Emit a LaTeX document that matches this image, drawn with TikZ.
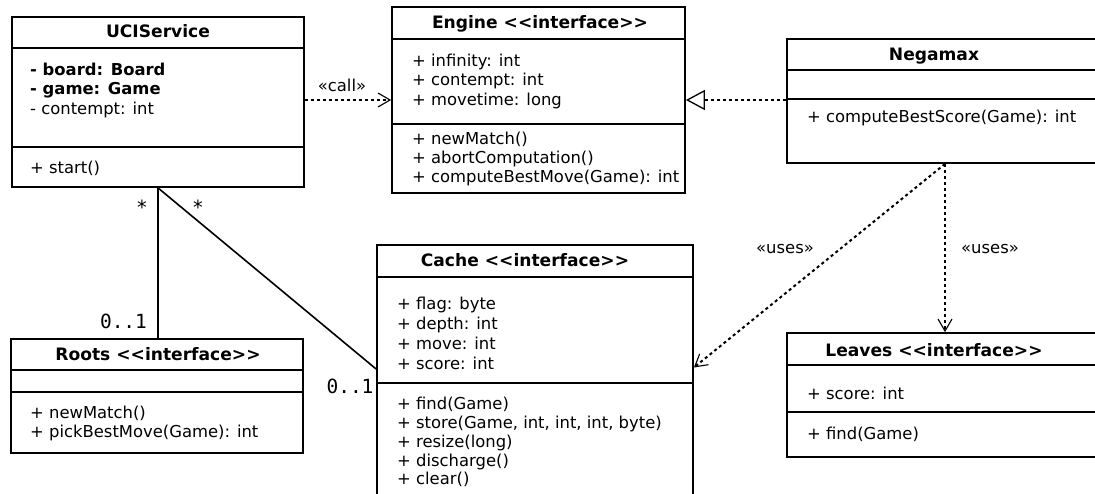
\documentclass[tikz,border=0pt]{standalone}
\usepackage{fontspec}
\setmainfont{DejaVu Sans}
\newfontfamily\monofont{DejaVu Sans Mono}
\usetikzlibrary{arrows.meta}

\tikzset{
  classbox/.style={draw, line width=1.8pt, rectangle, inner sep=0pt, fill=white},
  divider/.style={line width=1.8pt},
  txt/.style={anchor=base west, inner sep=0pt, font=\fontsize{16.4}{19.2}\selectfont},
  title/.style={anchor=base, inner sep=0pt, font=\fontsize{17.1}{19.2}\selectfont\bfseries},
  lbl/.style={anchor=base, inner sep=0pt, font=\fontsize{16.4}{19.2}\selectfont},
  mult/.style={anchor=center, inner sep=0pt, font=\fontsize{19.5}{22}\selectfont\monofont},
  depend/.style={line width=2pt, dash pattern=on 3pt off 3pt,
    -{Straight Barb[length=12pt, width=14pt, line width=1.1pt]}},
  realize/.style={line width=2pt, dash pattern=on 3pt off 3pt,
    -{Triangle[open, length=19pt, width=20pt, line width=1.3pt, fill=white]}},
  assoc/.style={line width=1.6pt},
}

\begin{document}
\begin{tikzpicture}[x=1pt, y=-1pt]
\useasboundingbox (0,0) rectangle (1095,494);
\clip (0,0) rectangle (1095,494);
\fill[white] (0,0) rectangle (1095,494);

% ---------- class boxes ----------
\node[classbox, minimum width=292pt, minimum height=170pt] (uci)     at (158,102)   {};
\node[classbox, minimum width=293pt, minimum height=186pt] (engine)  at (538.5,100) {};
\node[classbox, minimum width=316pt, minimum height=124pt] (negamax) at (945,101)   {};
\node[classbox, minimum width=316pt, minimum height=265pt] (cache)   at (535,377.5) {};
\node[classbox, minimum width=292pt, minimum height=114pt] (roots)   at (157,396)   {};
\node[classbox, minimum width=316pt, minimum height=124pt] (leaves)  at (945,395)   {};

% compartment dividers
\draw[divider] (uci.west |- 0,48)      -- (uci.east |- 0,48);
\draw[divider] (uci.west |- 0,147)     -- (uci.east |- 0,147);
\draw[divider] (engine.west |- 0,39)   -- (engine.east |- 0,39);
\draw[divider] (engine.west |- 0,124)  -- (engine.east |- 0,124);
\draw[divider] (negamax.west |- 0,70)  -- (negamax.east |- 0,70);
\draw[divider] (negamax.west |- 0,99)  -- (negamax.east |- 0,99);
\draw[divider] (cache.west |- 0,277)   -- (cache.east |- 0,277);
\draw[divider] (cache.west |- 0,383)   -- (cache.east |- 0,383);
\draw[divider] (roots.west |- 0,370)   -- (roots.east |- 0,370);
\draw[divider] (roots.west |- 0,392)   -- (roots.east |- 0,392);
\draw[divider] (leaves.west |- 0,365)  -- (leaves.east |- 0,365);
\draw[divider] (leaves.west |- 0,412)  -- (leaves.east |- 0,412);

% ---------- UCIService ----------
\node[title] (uciT) at (158,38) {UCIService};
\node[txt] (uciA1) at (30,76)  {\bfseries - board: Board};
\node[txt] (uciA2) at (30,95)  {\bfseries - game: Game};
\node[txt] (uciA3) at (30,115) {- contempt: int};
\node[txt] (uciM1) at (30,174) {+ start()};

% ---------- Engine ----------
\node[title] (engT) at (540,29) {Engine <{}<interface>{}>};
\node[txt] (engA1) at (412,67)  {+ infinity: int};
\node[txt] (engA2) at (412,86)  {+ contempt: int};
\node[txt] (engA3) at (412,106) {+ movetime: long};
\node[txt] (engM1) at (412,145) {+ newMatch()};
\node[txt] (engM2) at (412,164) {+ abortComputation()};
\node[txt] (engM3) at (412,183) {+ computeBestMove(Game): int};

% ---------- Negamax ----------
\node[title] (negT) at (934,61) {Negamax};
\node[txt] (negM1) at (807,123) {+ computeBestScore(Game): int};

% ---------- Cache ----------
\node[title] (cacT) at (525,267) {Cache <{}<interface>{}>};
\node[txt] (cacA1) at (397,310) {+ flag: byte};
\node[txt] (cacA2) at (397,330) {+ depth: int};
\node[txt] (cacA3) at (397,349) {+ move: int};
\node[txt] (cacA4) at (397,369) {+ score: int};
\node[txt] (cacM1) at (397,409) {+ find(Game)};
\node[txt] (cacM2) at (397,428) {+ store(Game, int, int, int, byte)};
\node[txt] (cacM3) at (397,447) {+ resize(long)};
\node[txt] (cacM4) at (397,466) {+ discharge()};
\node[txt] (cacM5) at (397,484) {+ clear()};

% ---------- Roots ----------
\node[title] (rooT) at (158,360) {Roots <{}<interface>{}>};
\node[txt] (rooM1) at (30,418) {+ newMatch()};
\node[txt] (rooM2) at (30,437) {+ pickBestMove(Game): int};

% ---------- Leaves ----------
\node[title] (leaT) at (934,356) {Leaves <{}<interface>{}>};
\node[txt] (leaA1) at (807,399) {+ score: int};
\node[txt] (leaM1) at (807,439) {+ find(Game)};

% ---------- relations ----------
\draw[depend] (uci.east |- engine.west) -- (engine.west);
\node[lbl] (callL) at (342,92) {«call»};

\draw[realize] (negamax.west |- engine.east) -- (engine.east);

\draw[depend] (negamax.south) -- (leaves.north);
\node[lbl] (usesR) at (990,254) {«uses»};

\draw[depend] (negamax.south) -- ([yshift=10pt]cache.east);
\node[lbl] (usesL) at (785,254) {«uses»};

\draw[assoc] (uci.south) -- (uci.south |- roots.north);
\draw[assoc] (uci.south) -- ([yshift=8.5pt]cache.west);

\node[mult] (m1) at (142,207) {*};
\node[mult] (m2) at (198,207) {*};
\node[mult] (m3) at (123.5,321) {0..1};
\node[mult] (m4) at (350,386) {0..1};
\end{tikzpicture}
\end{document}
